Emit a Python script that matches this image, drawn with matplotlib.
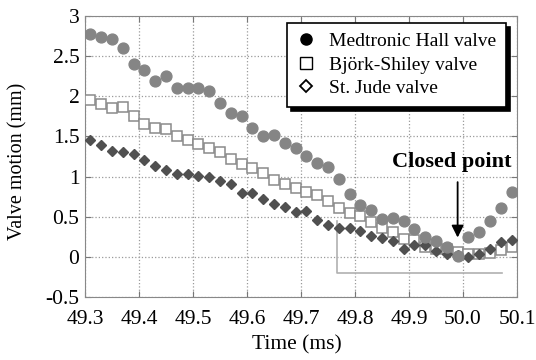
import matplotlib
matplotlib.use("Agg")
import matplotlib.pyplot as plt
from matplotlib.lines import Line2D

# === Datos ===
time_ms = [49.31, 49.33, 49.35, 49.37, 49.39, 49.41, 49.43, 49.45, 49.47, 49.49,
           49.51, 49.53, 49.55, 49.57, 49.59, 49.61, 49.63, 49.65, 49.67, 49.69,
           49.71, 49.73, 49.75, 49.77, 49.79, 49.81, 49.83, 49.85, 49.87, 49.89,
           49.91, 49.93, 49.95, 49.97, 49.99, 50.01, 50.03, 50.05, 50.07, 50.09]
medtronic = [2.77, 2.74, 2.71, 2.60, 2.40, 2.32, 2.19, 2.25, 2.10, 2.10,
             2.10, 2.06, 1.92, 1.79, 1.75, 1.60, 1.50, 1.52, 1.42, 1.36,
             1.26, 1.17, 1.12, 0.97, 0.78, 0.65, 0.58, 0.47, 0.48, 0.45,
             0.35, 0.25, 0.20, 0.12, 0.01, 0.25, 0.31, 0.45, 0.61, 0.81]
bjork = [1.95, 1.90, 1.85, 1.86, 1.75, 1.65, 1.61, 1.59, 1.51, 1.46,
         1.41, 1.36, 1.31, 1.22, 1.16, 1.10, 1.04, 0.96, 0.91, 0.86,
         0.81, 0.77, 0.70, 0.61, 0.55, 0.51, 0.43, 0.36, 0.31, 0.22,
         0.21, 0.12, 0.10, 0.10, 0.06, 0.04, 0.04, 0.05, 0.08, 0.12]
stjude = [1.46, 1.39, 1.32, 1.30, 1.28, 1.20, 1.13, 1.08, 1.03, 1.03,
          1.01, 0.99, 0.95, 0.91, 0.80, 0.79, 0.72, 0.66, 0.62, 0.56,
          0.57, 0.46, 0.40, 0.36, 0.36, 0.32, 0.26, 0.23, 0.20, 0.10,
          0.15, 0.15, 0.07, 0.04, 0.02, 0.00, 0.04, 0.10, 0.19, 0.21]
labels = ["Medtronic Hall valve", "Björk-Shiley valve", "St. Jude valve"]
x_ticks = [49.3, 49.4, 49.5, 49.6, 49.7, 49.8, 49.9, 50.0, 50.1]
y_ticks = [-0.5, 0, 0.5, 1, 1.5, 2, 2.5, 3]
y_tick_labels = ["-0.5", "0", "0.5", "1", "1.5", "2", "2.5", "3"]

plt.rcParams['font.family'] = ['Liberation Serif', 'DejaVu Serif']

fig = plt.figure(figsize=(5.36, 3.6), dpi=100)
ax = fig.add_axes([0.1586, 0.175, 0.806, 0.781])

ax.plot(time_ms, bjork, ls='none', marker='s', ms=6.8, mfc='white',
        mec='#8a8a8a', mew=1.1, zorder=3)
ax.plot(time_ms, stjude, ls='none', marker='D', ms=5.5, color='#505050', zorder=4)
ax.plot(time_ms, medtronic, ls='none', marker='o', ms=7.8, color='#858585', zorder=5)

# --- Corchete gris y anotacion ---
ax.plot([49.766, 49.766, 50.073], [0.45, -0.2, -0.2], color='#b0b0b0', lw=1.2, zorder=2)
ax.annotate("", xy=(49.99, 0.24), xytext=(49.99, 0.93),
            arrowprops=dict(arrowstyle='-|>', color='black', lw=1.3,
                            mutation_scale=18, shrinkA=0, shrinkB=0))
ax.text(50.09, 1.12, "Closed point", ha='right', va='baseline',
        fontsize=16, fontweight='bold')

ax.set_xlim(49.3, 50.1)
ax.set_ylim(-0.5, 3)
ax.set_xticks(x_ticks)
ax.set_xticklabels([f"{v:.1f}" for v in x_ticks])
ax.set_yticks(y_ticks)
ax.set_yticklabels(y_tick_labels)
ax.tick_params(direction='in', labelsize=15.5, length=4, color='#777777',
               top=True, right=True)
ax.tick_params(axis='x', pad=9)
ax.tick_params(axis='y', pad=4)
ax.grid(True, ls=':', color='#9a9a9a', lw=0.9)
for s in ax.spines.values():
    s.set_color('#888888')
ax.set_xlabel("Time (ms)", fontsize=15.5, va='center')
ax.set_ylabel("Valve motion (mm)", fontsize=14.5, va='center')
ax.xaxis.set_label_coords(0.491, -0.171)
ax.yaxis.set_label_coords(-0.155, 0.482)

handles = [Line2D([], [], ls='none', marker='o', ms=8, color='black'),
           Line2D([], [], ls='none', marker='s', ms=8, mfc='white', mec='black', mew=1.0),
           Line2D([], [], ls='none', marker='D', ms=6, mfc='white', mec='black', mew=1.3)]
leg = ax.legend(handles, labels, loc='upper right', bbox_to_anchor=(0.975, 0.975),
                borderaxespad=0, fontsize=14, frameon=True, fancybox=False,
                edgecolor='black', framealpha=1, handlelength=1.0,
                handletextpad=0.7, labelspacing=0.3, borderpad=0.5,
                shadow={'color': 'black', 'alpha': 1, 'ox': 3, 'oy': -3})
leg.get_frame().set_linewidth(1.2)
leg.set_zorder(10)

fig.savefig("out.png", dpi=100)
